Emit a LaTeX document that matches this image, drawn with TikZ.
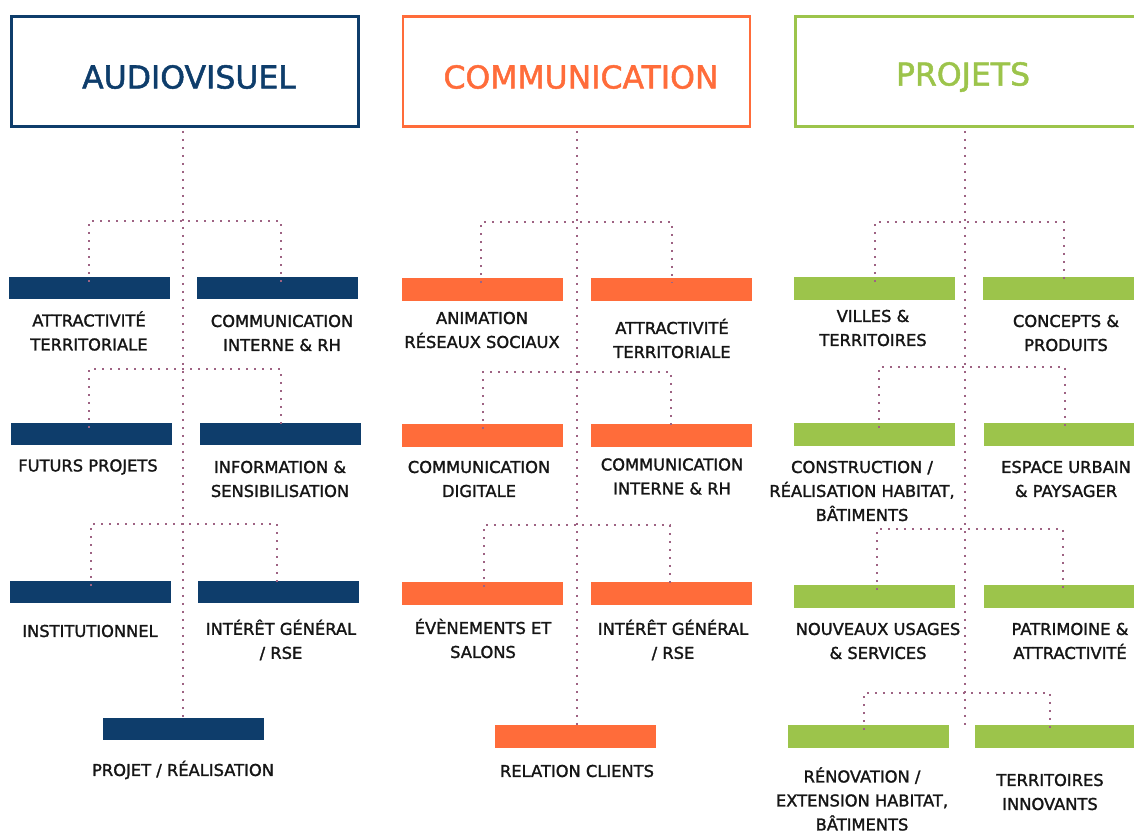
\documentclass[tikz,border=0pt]{standalone}
\usepackage{fontspec}
\setmainfont{DejaVu Sans}[FakeBold=1.6]
\definecolor{cblue}{HTML}{0E3D6B}
\definecolor{corange}{HTML}{FF6C3A}
\definecolor{cgreen}{HTML}{9CC44B}
\definecolor{cdot}{HTML}{9E6383}
\definecolor{ctext}{HTML}{151515}
\begin{document}
\begin{tikzpicture}[x=1pt,y=-1pt,
  hdr/.style={draw=#1,line width=2.6pt,minimum width=347pt,minimum height=110pt,inner sep=0pt},
  htxt/.style={text=#1,inner sep=0pt,font=\fontsize{31.5}{36}\selectfont},
  bar/.style={fill=#1,minimum width=161pt,minimum height=22.5pt,inner sep=0pt},
  lbl/.style={align=center,text=ctext,inner sep=0pt,font=\fontsize{16.3}{24}\selectfont},
  dots/.style={draw=cdot,line width=2pt,dash pattern=on 2pt off 6pt},
]
\useasboundingbox (0,0) rectangle (1134,834);
\clip (0,0) rectangle (1134,834);
% headers
\node[hdr=cblue] (h1) at (185,71.5) {};
\node[hdr=corange] (h2) at (576.5,71.5) {};
\node[hdr=cgreen] (h3) at (969,71.5) {};
\node[htxt=cblue] (t1) at (189,77) {AUDIOVISUEL};
\node[htxt=corange] (t2) at (581,77) {COMMUNICATION};
\node[htxt=cgreen] (t3) at (963,77) {PROJETS};
% column 1 bars
\node[bar=cblue] (a1) at (89.5,288) {};
\node[bar=cblue] (a2) at (277.5,288) {};
\node[bar=cblue] (a3) at (91.5,434) {};
\node[bar=cblue] (a4) at (280.5,434) {};
\node[bar=cblue] (a5) at (90.5,592) {};
\node[bar=cblue] (a6) at (278.5,592) {};
\node[bar=cblue] (a7) at (183.5,729) {};
% column 2 bars
\node[bar=corange] (b1) at (482.5,289.5) {};
\node[bar=corange] (b2) at (671.5,289.5) {};
\node[bar=corange] (b3) at (482.5,435.5) {};
\node[bar=corange] (b4) at (671.5,435.5) {};
\node[bar=corange] (b5) at (482.5,593.5) {};
\node[bar=corange] (b6) at (671.5,593.5) {};
\node[bar=corange] (b7) at (575.5,736.5) {};
% column 3 bars
\node[bar=cgreen] (c1) at (874.5,288.5) {};
\node[bar=cgreen] (c2) at (1063.5,288.5) {};
\node[bar=cgreen] (c3) at (874.5,434.5) {};
\node[bar=cgreen] (c4) at (1064.5,434.5) {};
\node[bar=cgreen] (c5) at (874.5,596.5) {};
\node[bar=cgreen] (c6) at (1064.5,596.5) {};
\node[bar=cgreen] (c7) at (868.5,736.5) {};
\node[bar=cgreen] (c8) at (1055.5,736.5) {};
% labels column 1
\node[lbl] (la1) at (89,331) {ATTRACTIVITÉ\\TERRITORIALE};
\node[lbl] (la2) at (282,333) {COMMUNICATION\\INTERNE \& RH};
\node[lbl] (la3) at (88,467) {FUTURS PROJETS};
\node[lbl] (la4) at (280,479) {INFORMATION \&\\SENSIBILISATION};
\node[lbl] (la5) at (90,631) {INSTITUTIONNEL};
\node[lbl] (la6) at (281,640) {INTÉRÊT GÉNÉRAL\\/ RSE};
\node[lbl] (la7) at (183,770) {PROJET / RÉALISATION};
% labels column 2
\node[lbl] (lb1) at (482,330) {ANIMATION\\RÉSEAUX SOCIAUX};
\node[lbl] (lb2) at (672,338.5) {ATTRACTIVITÉ\\TERRITORIALE};
\node[lbl] (lb3) at (479,479) {COMMUNICATION\\DIGITALE};
\node[lbl] (lb4) at (672,476.5) {COMMUNICATION\\INTERNE \& RH};
\node[lbl] (lb5) at (483,638.5) {ÉVÈNEMENTS ET\\SALONS};
\node[lbl] (lb6) at (673,640) {INTÉRÊT GÉNÉRAL\\/ RSE};
\node[lbl] (lb7) at (577,771) {RELATION CLIENTS};
% labels column 3
\node[lbl] (lc1) at (873,328) {VILLES \&\\TERRITOIRES};
\node[lbl] (lc2) at (1066,333) {CONCEPTS \&\\PRODUITS};
\node[lbl] (lc3) at (862,491) {CONSTRUCTION /\\RÉALISATION HABITAT,\\BÂTIMENTS};
\node[lbl] (lc4) at (1066,479) {ESPACE URBAIN\\\& PAYSAGER};
\node[lbl] (lc5) at (878,641) {NOUVEAUX USAGES\\\& SERVICES};
\node[lbl] (lc6) at (1070,641) {PATRIMOINE \&\\ATTRACTIVITÉ};
\node[lbl] (lc7) at (862,799) {RÉNOVATION /\\EXTENSION HABITAT,\\BÂTIMENTS};
\node[lbl] (lc8) at (1050,792) {TERRITOIRES\\INNOVANTS};
% trunks
\draw[dots] (h1.south) ++(-2,3) coordinate (k1) -- (k1 |- a7.north);
\draw[dots] (h2.south) ++(0,3) coordinate (k2) -- (k2 |- b7.north);
\draw[dots] (h3.south) ++(-4,3) coordinate (k3) -- ([yshift=-4pt]k3 |- c7.north);
% branches column 1
\draw[dots] ([yshift=-5pt]a1.north -| 89,0) -- (89,221) -- (281,221) -- ([yshift=-5pt]a2.north -| 281,0);
\draw[dots] ([yshift=-5pt]a3.north -| 89,0) -- (89,369) -- (281,369) -- ([yshift=-5pt]a4.north -| 281,0);
\draw[dots] ([yshift=-5pt]a5.north -| 91,0) -- (91,524) -- (277,524) -- ([yshift=-5pt]a6.north -| 277,0);
% branches column 2
\draw[dots] ([yshift=-5pt]b1.north -| 481,0) -- (481,222) -- (672,222) -- ([yshift=-5pt]b2.north -| 672,0);
\draw[dots] ([yshift=-5pt]b3.north -| 483,0) -- (483,372) -- (671,372) -- ([yshift=-5pt]b4.north -| 671,0);
\draw[dots] ([yshift=-5pt]b5.north -| 484,0) -- (484,525) -- (670,525) -- ([yshift=-5pt]b6.north -| 670,0);
% branches column 3
\draw[dots] ([yshift=-5pt]c1.north -| 875,0) -- (875,222) -- (1064,222) -- ([yshift=-5pt]c2.north -| 1064,0);
\draw[dots] ([yshift=-5pt]c3.north -| 879,0) -- (879,367) -- (1065,367) -- ([yshift=-5pt]c4.north -| 1065,0);
\draw[dots] ([yshift=-5pt]c5.north -| 877,0) -- (877,529) -- (1063,529) -- ([yshift=-5pt]c6.north -| 1063,0);
\draw[dots] ([yshift=-5pt]c7.north -| 864,0) -- (864,693) -- (1050,693) -- ([yshift=-5pt]c8.north -| 1050,0);
\end{tikzpicture}
\end{document}
